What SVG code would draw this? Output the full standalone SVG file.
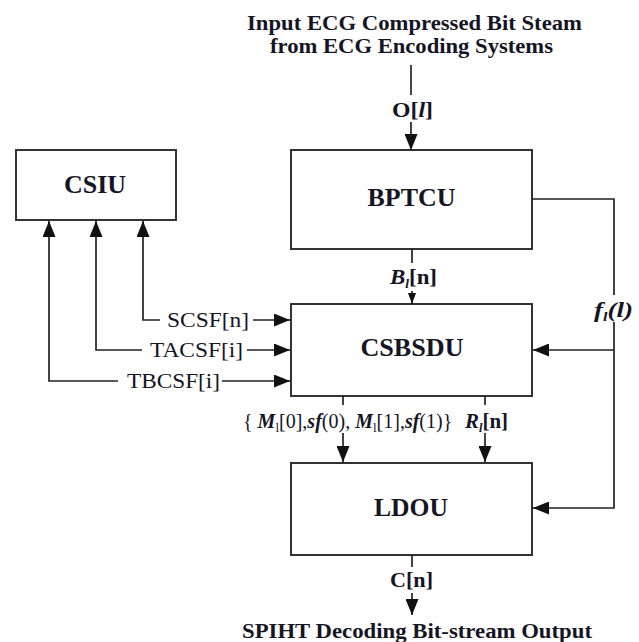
<svg xmlns="http://www.w3.org/2000/svg" width="639" height="642" viewBox="0 0 639 642">
<defs>
<style>
text{font-family:"Liberation Serif","Times New Roman",serif;fill:#151525}
.box{fill:#fff;stroke:#333;stroke-width:2}
.bl{font-size:25px;font-weight:bold;text-anchor:middle}
.lb{font-size:22px;font-weight:bold}
.lr{font-size:22px}
.it{font-style:italic;font-weight:bold}
.sub{font-size:13px}
.c line,.c path{stroke:#222;stroke-width:1.7;fill:none}
</style>
<marker id="ah" markerUnits="userSpaceOnUse" markerWidth="17" markerHeight="13" refX="16" refY="6.5" orient="auto">
<path d="M0,0 L16,6.5 L0,13 z" fill="#111"/>
</marker>
<marker id="as" markerUnits="userSpaceOnUse" markerWidth="11" markerHeight="9" refX="11" refY="4" orient="auto">
<path d="M0,0 L11,4 L0,8 z" fill="#111"/>
</marker>
</defs>

<g id="CSIU"><rect class="box" x="16" y="150" width="160" height="70"/><text class="bl" x="95" y="193" textLength="62" lengthAdjust="spacingAndGlyphs">CSIU</text></g>
<g id="BPTCU"><rect class="box" x="291" y="150" width="241" height="99"/><text class="bl" x="411.5" y="206" textLength="88" lengthAdjust="spacingAndGlyphs">BPTCU</text></g>
<g id="CSBSDU"><rect class="box" x="291" y="304" width="241" height="92"/><text class="bl" x="412" y="356" textLength="103" lengthAdjust="spacingAndGlyphs">CSBSDU</text></g>
<g id="LDOU"><rect class="box" x="291" y="463" width="241" height="92"/><text class="bl" x="411" y="516" textLength="74" lengthAdjust="spacingAndGlyphs">LDOU</text></g>

<g id="connectors" class="c">
<line x1="411" y1="65" x2="411" y2="95"/>
<line x1="411" y1="122" x2="411" y2="150" marker-end="url(#ah)"/>
<line x1="412" y1="249" x2="412" y2="263"/>
<line x1="412" y1="291" x2="412" y2="304" marker-end="url(#as)"/>
<path d="M532,199 H614 V295"/>
<path d="M614,322 V508 H533" marker-end="url(#ah)"/>
<path d="M614,350 H533" marker-end="url(#ah)"/>
<path d="M160,320 H143 V221" marker-end="url(#ah)"/>
<line x1="253" y1="320" x2="290" y2="320" marker-end="url(#ah)"/>
<path d="M142,350 H96 V221" marker-end="url(#ah)"/>
<line x1="247" y1="350" x2="290" y2="350" marker-end="url(#ah)"/>
<path d="M118,381 H49 V221" marker-end="url(#ah)"/>
<line x1="222" y1="381" x2="290" y2="381" marker-end="url(#ah)"/>
<line x1="343" y1="396" x2="343" y2="405"/>
<line x1="343" y1="433" x2="343" y2="462" marker-end="url(#ah)"/>
<line x1="485" y1="396" x2="485" y2="405"/>
<line x1="485" y1="433" x2="485" y2="462" marker-end="url(#ah)"/>
<line x1="412" y1="555" x2="412" y2="567"/>
<line x1="412" y1="593" x2="412" y2="615" marker-end="url(#ah)"/>
</g>

<g id="labels">
<text class="lb" x="414.5" y="30" text-anchor="middle" textLength="335" lengthAdjust="spacingAndGlyphs">Input ECG Compressed Bit Steam</text>
<text class="lb" x="411.5" y="53" text-anchor="middle" textLength="283" lengthAdjust="spacingAndGlyphs">from ECG Encoding Systems</text>
<text class="lb" x="392" y="117" textLength="41" lengthAdjust="spacingAndGlyphs">O[<tspan class="it">l</tspan>]</text>
<text class="lb" x="390" y="284" textLength="47" lengthAdjust="spacingAndGlyphs"><tspan class="it">B</tspan><tspan class="sub it" dy="4">l</tspan><tspan dy="-4">[n]</tspan></text>
<text class="lb" x="594" y="317" textLength="39" lengthAdjust="spacingAndGlyphs"><tspan class="it">f</tspan><tspan class="sub it" dy="4">l</tspan><tspan class="it" dy="-4">(l)</tspan></text>
<text class="lr" x="167" y="327" textLength="82" lengthAdjust="spacingAndGlyphs">SCSF[n]</text>
<text class="lr" x="150" y="357" textLength="93" lengthAdjust="spacingAndGlyphs">TACSF[i]</text>
<text class="lr" x="127" y="388" textLength="93" lengthAdjust="spacingAndGlyphs">TBCSF[i]</text>
<text x="243" y="428" style="font-size:20px">{ <tspan class="it">M</tspan><tspan class="sub" dy="4">l</tspan><tspan dy="-4">[0],</tspan><tspan class="it">sf</tspan>(0), <tspan class="it">M</tspan><tspan class="sub" dy="4">l</tspan><tspan dy="-4">[1],</tspan><tspan class="it">sf</tspan>(1)}</text>
<text class="lb" x="465" y="428" textLength="43" lengthAdjust="spacingAndGlyphs"><tspan class="it">R</tspan><tspan class="sub it" dy="4">l</tspan><tspan dy="-4">[n]</tspan></text>
<text class="lb" x="390" y="587" textLength="43" lengthAdjust="spacingAndGlyphs">C[n]</text>
<text class="lb" x="417" y="638" text-anchor="middle" textLength="350" lengthAdjust="spacingAndGlyphs">SPIHT Decoding Bit-stream Output</text>
</g>
</svg>
